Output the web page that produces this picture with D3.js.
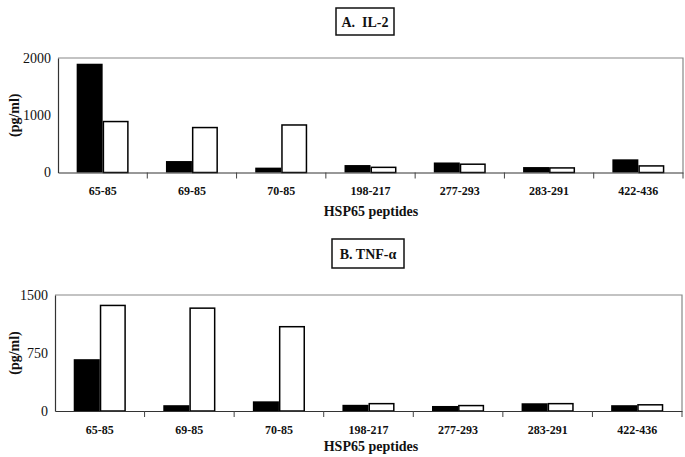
<!DOCTYPE html>
<html>
<head>
<meta charset="utf-8">
<script src="https://cdn.jsdelivr.net/npm/d3@7"></script>
<style>
  body { margin: 0; background: #fff; }
  svg { display: block; }
</style>
</head>
<body>
<svg id="chart" width="685" height="457"></svg>
<script>
const peptides = ["65-85", "69-85", "70-85", "198-217", "277-293", "283-291", "422-436"];
const seriesNames = ["filled", "open"];

// A. IL-2 (pg/ml)
const il2Filled = [1900, 200, 85, 130, 175, 95, 230];
const il2Open = [890, 785, 830, 90, 145, 80, 115];
const il2Ticks = [0, 1000, 2000];

// B. TNF-alpha (pg/ml)
const tnfFilled = [670, 75, 125, 80, 65, 100, 75];
const tnfOpen = [1365, 1330, 1090, 95, 70, 95, 80];
const tnfTicks = [0, 750, 1500];

const svg = d3.select("#chart");
const serif = "'Liberation Serif', 'Times New Roman', serif";

function panel(opts) {
  const g = svg.append("g");
  const { left, right, top, bottom, max, ticks, filled, open, title, box, labelY } = opts;

  const x = d3.scaleBand().domain(peptides).range([left, right]).paddingInner(0);
  const barW = x.bandwidth() * 0.291;
  const xs = d3.scaleBand()
    .domain(seriesNames)
    .range([x.bandwidth() / 2 - barW, x.bandwidth() / 2 + barW]);
  const y = d3.scaleLinear().domain([0, max]).range([bottom, top]);

  // plot frame (top and right, grey)
  g.append("path")
    .attr("d", `M${left},${top}H${right}V${bottom}`)
    .attr("fill", "none")
    .attr("stroke", "#888")
    .attr("stroke-width", 1.2);

  const rows = peptides.map((p, i) => ({ p, filled: filled[i], open: open[i] }));

  const grp = g.selectAll("g.grp")
    .data(rows)
    .enter()
    .append("g")
    .attr("transform", d => `translate(${x(d.p)},0)`);

  grp.append("rect")
    .attr("x", xs("filled"))
    .attr("y", d => y(d.filled))
    .attr("width", xs.bandwidth())
    .attr("height", d => y(0) - y(d.filled))
    .attr("fill", "#000");

  grp.append("rect")
    .attr("x", xs("open") + 0.75)
    .attr("y", d => y(d.open))
    .attr("width", xs.bandwidth() - 1.5)
    .attr("height", d => y(0) - y(d.open))
    .attr("fill", "#fff")
    .attr("stroke", "#000")
    .attr("stroke-width", 1.5);

  // y axis
  const yAxis = g.append("g")
    .attr("transform", `translate(${left},0)`)
    .call(d3.axisLeft(y).tickValues(ticks).tickFormat(d3.format("d")).tickSize(0).tickPadding(7));
  yAxis.select(".domain").attr("stroke", "#333").attr("stroke-width", 1.2);
  yAxis.selectAll("text")
    .attr("font-family", serif)
    .attr("font-size", "14px")
    .attr("fill", "#111");

  // x axis with ticks between categories
  const xAxis = g.append("g")
    .attr("transform", `translate(0,${bottom})`)
    .call(d3.axisBottom(x).tickSize(0).tickPadding(14));
  xAxis.select(".domain").attr("stroke", "#333").attr("stroke-width", 1.2);
  xAxis.selectAll("text")
    .attr("font-family", serif)
    .attr("font-weight", "bold")
    .attr("font-size", "12px")
    .attr("fill", "#111");
  xAxis.selectAll("line.sep")
    .data(peptides.slice(1).concat(["end"]))
    .enter()
    .append("line")
    .attr("class", "sep")
    .attr("x1", (d, i) => left + (i + 1) * x.step())
    .attr("x2", (d, i) => left + (i + 1) * x.step())
    .attr("y1", 0)
    .attr("y2", 6)
    .attr("stroke", "#444");

  // y label
  g.append("text")
    .attr("transform", `translate(19,${(top + bottom) / 2}) rotate(-90)`)
    .attr("text-anchor", "middle")
    .attr("font-family", serif)
    .attr("font-weight", "bold")
    .attr("font-size", "14px")
    .attr("fill", "#111")
    .text("(pg/ml)");

  // x label
  g.append("text")
    .attr("x", 371)
    .attr("y", labelY)
    .attr("text-anchor", "middle")
    .attr("font-family", serif)
    .attr("font-weight", "bold")
    .attr("font-size", "14px")
    .attr("fill", "#111")
    .text("HSP65 peptides");

  // title box
  g.append("rect")
    .attr("x", box[0])
    .attr("y", box[1])
    .attr("width", box[2])
    .attr("height", box[3])
    .attr("fill", "#fff")
    .attr("stroke", "#111")
    .attr("stroke-width", 1.5);
  g.append("text")
    .attr("x", box[0] + box[2] / 2)
    .attr("y", box[1] + box[3] / 2 + 5)
    .attr("text-anchor", "middle")
    .attr("font-family", serif)
    .attr("font-weight", "bold")
    .attr("font-size", "14px")
    .attr("fill", "#111")
    .attr("xml:space", "preserve")
    .text(title);
}

panel({
  left: 58, right: 683, top: 58, bottom: 172.5, max: 2000, ticks: il2Ticks,
  filled: il2Filled, open: il2Open, title: "A.  IL-2", box: [336, 8, 58, 27], labelY: 216
});

panel({
  left: 55, right: 682, top: 295, bottom: 411, max: 1500, ticks: tnfTicks,
  filled: tnfFilled, open: tnfOpen, title: "B. TNF-\u03b1", box: [332, 239, 72, 29], labelY: 451
});
</script>
</body>
</html>
